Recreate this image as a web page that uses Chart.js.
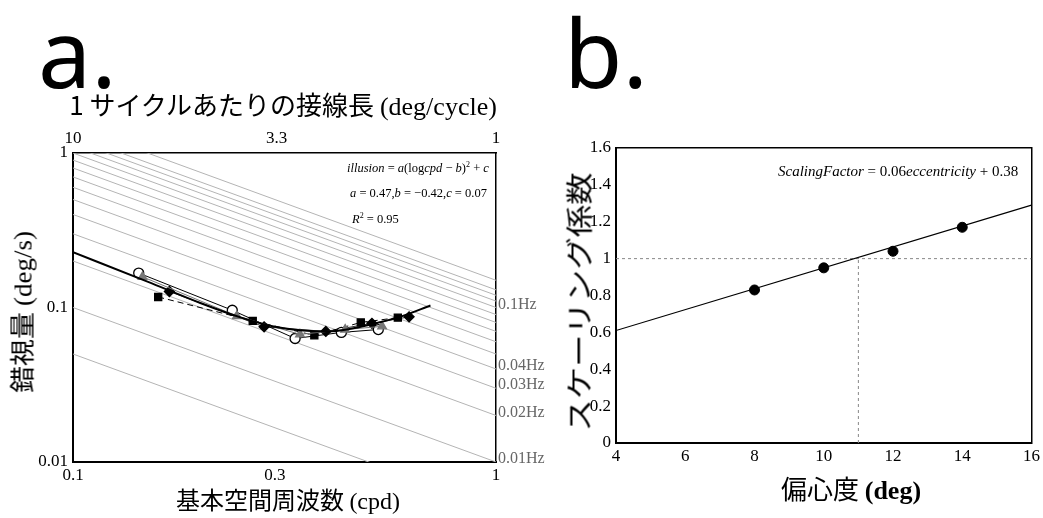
<!DOCTYPE html>
<html>
<head>
<meta charset="utf-8">
<script src="https://cdn.jsdelivr.net/npm/chart.js@4.4.0/dist/chart.umd.min.js"></script>
<style>
  body { margin: 0; background: #fff; width: 1043px; height: 518px; position: relative; overflow: hidden; }
  canvas { position: absolute; top: 0; }
  #chartA { left: 0; }
  #chartB { left: 560px; }
  .txt { position: absolute; white-space: nowrap; color: #000; line-height: 1; }
  .big { font-family: "Noto Sans", sans-serif; font-size: 95px; top: 4px; }
  .jp { font-family: "Noto Sans CJK JP", sans-serif; }
  .serif { font-family: "Liberation Serif", serif; }
  .formula { font-family: "Liberation Serif", serif; font-size: 12.5px; }
  .formula sup { font-size: 8px; }
  .rot { transform: translate(-50%, -50%) rotate(-90deg); }
  .ctr { transform: translate(-50%, -50%); }
</style>
</head>
<body>
<canvas id="chartA" width="560" height="518"></canvas>
<canvas id="chartB" width="483" height="518"></canvas>

<div class="txt big" style="left:38px;">a.</div>
<div class="txt big" style="left:564px;">b.</div>

<div class="txt jp ctr" style="left:283px; top:105px; font-size:26px;">1 サイクルあたりの接線長 <span class="serif">(deg/cycle)</span></div>
<div class="txt jp rot" style="left:22px; top:312px; font-size:25px; transform: translate(-50%, -50%) rotate(-90deg) scaleX(1.08);">錯視量 <span class="serif">(deg/s)</span></div>
<div class="txt jp ctr" style="left:288px; top:500px; font-size:24px;">基本空間周波数 <span class="serif">(cpd)</span></div>

<div class="txt formula" style="left:347px; top:161px;"><i>illusion</i> = <i>a</i>(log<i>cpd</i> − <i>b</i>)<sup>2</sup> + <i>c</i></div>
<div class="txt formula" style="left:350px; top:187px;"><i>a</i> = 0.47,<i>b</i> = −0.42,<i>c</i> = 0.07</div>
<div class="txt formula" style="left:352px; top:212px;"><i>R</i><sup>2</sup> = 0.95</div>

<div class="txt jp" style="left:578px; top:302px; font-size:27px; transform: translate(-50%, -50%) rotate(-90deg) scaleX(1.2);">スケーリング係数</div>
<div class="txt jp ctr" style="left:851px; top:489px; font-size:26px;">偏心度 <b class="serif">(deg)</b></div>
<div class="txt formula" style="left:778px; top:164px; font-size:15px;"><i>ScalingFactor</i> = 0.06<i>eccentricity</i> + 0.38</div>

<script>
// ---- panel a data ----
const sfTicks = [0.1, 0.3, 1];
const cycleTicks = [10, 3.3, 1];
const speedTicks = [0.01, 0.1, 1];
const hzTicks = [0.1, 0.04, 0.03, 0.02, 0.01];
const hzLabels = ['0.1Hz', '0.04Hz', '0.03Hz', '0.02Hz', '0.01Hz'];
// temporal frequencies of the grey iso-lines (Hz)
const isoTF = [0.005, 0.01, 0.02, 0.03, 0.04, 0.05, 0.06, 0.07, 0.08, 0.09, 0.1, 0.11, 0.12, 0.13, 0.15];

const circleSF = [0.143, 0.238, 0.335, 0.431, 0.527];
const circleV = [0.167, 0.096, 0.063, 0.069, 0.072];
const triSF = [0.146, 0.244, 0.344, 0.44, 0.538];
const triV = [0.158, 0.088, 0.067, 0.072, 0.0755];
const squareSF = [0.159, 0.266, 0.372, 0.479, 0.586];
const squareV = [0.117, 0.082, 0.066, 0.080, 0.086];
const diamondSF = [0.169, 0.283, 0.396, 0.509, 0.623];
const diamondV = [0.127, 0.075, 0.070, 0.079, 0.087];
const fitSF = [0.1, 0.15, 0.2, 0.25, 0.3, 0.35, 0.4, 0.45, 0.5, 0.6, 0.7];
const fitV = [0.228, 0.147, 0.107, 0.086, 0.075, 0.071, 0.070, 0.0725, 0.077, 0.088, 0.103];

// ---- panel b data ----
const eccTicks = [4, 6, 8, 10, 12, 14, 16];
const eccentricity = [8, 10, 12, 14];
const scaling = [0.83, 0.95, 1.04, 1.17];
const fitEcc = [4, 16];
const fitScaling = [0.61, 1.29];
const crossEcc = 11;
const crossScaling = 1;

const serif = { family: '"Liberation Serif", serif', size: 17 };
const noGrid = { display: false, drawTicks: false };

function pts(xs, ys) {
    return xs.map((x, i) => ({ x: x, y: ys[i] }));
}

function fixedTicks(values) {
    return scale => { scale.ticks = values.map(v => ({ value: v })); };
}

function series(xs, ys, style) {
    return Object.assign({
        type: 'line',
        data: pts(xs, ys),
        showLine: true,
        borderWidth: 1,
        pointRadius: 5,
        pointBorderWidth: 1.3,
        tension: 0,
        order: 2
    }, style);
}

const isoSets = isoTF.map(tf => ({
    type: 'line',
    data: [{ x: 0.1, y: tf / 0.1 }, { x: 1, y: tf }],
    borderColor: '#b4b4b4',
    borderWidth: 1,
    pointRadius: 0,
    order: 10
}));

new Chart(document.getElementById('chartA'), {
    type: 'line',
    data: {
        datasets: [
            ...isoSets,
            series(triSF, triV, { pointStyle: 'triangle', backgroundColor: '#777', borderColor: '#777', pointBorderColor: '#777' }),
            series(circleSF, circleV, { pointStyle: 'circle', backgroundColor: '#fff', borderColor: '#000', pointBorderColor: '#000' }),
            series(squareSF, squareV, { pointStyle: 'rect', backgroundColor: '#000', borderColor: '#000', borderDash: [6, 4] }),
            series(diamondSF, diamondV, { pointStyle: 'rectRot', backgroundColor: '#000', borderColor: '#333', pointBorderColor: '#000' }),
            {
                type: 'line',
                data: pts(fitSF, fitV),
                borderColor: '#000',
                borderWidth: 2,
                pointRadius: 0,
                cubicInterpolationMode: 'monotone',
                order: 1
            }
        ]
    },
    options: {
        responsive: false,
        animation: false,
        layout: { padding: 0 },
        plugins: { legend: { display: false }, tooltip: { enabled: false } },
        scales: {
            x: {
                type: 'logarithmic', position: 'bottom', min: 0.1, max: 1,
                grid: noGrid,
                border: { display: true, color: '#000', width: 2 },
                afterBuildTicks: fixedTicks(sfTicks),
                ticks: { color: '#000', font: serif, padding: 3, maxRotation: 0, callback: v => String(v) },
                afterFit: s => { s.height = 56; }
            },
            xTop: {
                type: 'logarithmic', position: 'top', min: 1, max: 10, reverse: true,
                grid: noGrid,
                border: { display: true, color: '#000', width: 1.5 },
                afterBuildTicks: fixedTicks(cycleTicks),
                ticks: { color: '#000', font: serif, padding: 4, maxRotation: 0, callback: v => String(v) },
                afterFit: s => { s.height = 153; }
            },
            y: {
                type: 'logarithmic', position: 'left', min: 0.01, max: 1,
                grid: noGrid,
                border: { display: true, color: '#000', width: 2 },
                afterBuildTicks: fixedTicks(speedTicks),
                ticks: { color: '#000', font: serif, padding: 5, callback: v => String(v) },
                afterFit: s => { s.width = 73; }
            },
            yHz: {
                type: 'logarithmic', position: 'right', min: 0.01, max: 1,
                grid: noGrid,
                border: { display: true, color: '#000', width: 1.5 },
                afterBuildTicks: fixedTicks(hzTicks),
                ticks: { color: '#666', font: { family: '"Liberation Serif", serif', size: 16 }, padding: 2, labelOffset: -3,
                         callback: v => hzLabels[hzTicks.indexOf(v)] },
                afterFit: s => { s.width = 64; }
            }
        }
    }
});

new Chart(document.getElementById('chartB'), {
    type: 'scatter',
    data: {
        datasets: [
            {
                data: pts(eccentricity, scaling),
                backgroundColor: '#000',
                borderColor: '#000',
                pointRadius: 5,
                order: 1
            },
            {
                type: 'line',
                data: pts(fitEcc, fitScaling),
                borderColor: '#000',
                borderWidth: 1.2,
                pointRadius: 0,
                order: 2
            },
            {
                type: 'line',
                data: [{ x: fitEcc[0], y: crossScaling }, { x: fitEcc[1], y: crossScaling }],
                borderColor: '#888',
                borderWidth: 1,
                borderDash: [3, 3],
                pointRadius: 0,
                order: 3
            },
            {
                type: 'line',
                data: [{ x: crossEcc, y: 0 }, { x: crossEcc, y: crossScaling }],
                borderColor: '#888',
                borderWidth: 1,
                borderDash: [3, 3],
                pointRadius: 0,
                order: 3
            }
        ]
    },
    options: {
        responsive: false,
        animation: false,
        layout: { padding: 0 },
        plugins: { legend: { display: false }, tooltip: { enabled: false } },
        scales: {
            x: {
                type: 'linear', position: 'bottom', min: 4, max: 16,
                grid: noGrid,
                border: { display: true, color: '#000', width: 2 },
                afterBuildTicks: fixedTicks(eccTicks),
                ticks: { color: '#000', font: serif, padding: 3 },
                afterFit: s => { s.height = 75; }
            },
            xTop: {
                type: 'linear', position: 'top', min: 4, max: 16,
                grid: noGrid,
                border: { display: true, color: '#000', width: 1.5 },
                ticks: { display: false },
                afterFit: s => { s.height = 148; }
            },
            y: {
                type: 'linear', position: 'left', min: 0, max: 1.6,
                grid: noGrid,
                border: { display: true, color: '#000', width: 2 },
                ticks: { color: '#000', font: serif, padding: 5, stepSize: 0.2, callback: v => String(+v.toFixed(1)) },
                afterFit: s => { s.width = 56; }
            },
            yRight: {
                type: 'linear', position: 'right', min: 0, max: 1.6,
                grid: noGrid,
                border: { display: true, color: '#000', width: 1.5 },
                ticks: { display: false },
                afterFit: s => { s.width = 7; }
            }
        }
    }
});
</script>
</body>
</html>
